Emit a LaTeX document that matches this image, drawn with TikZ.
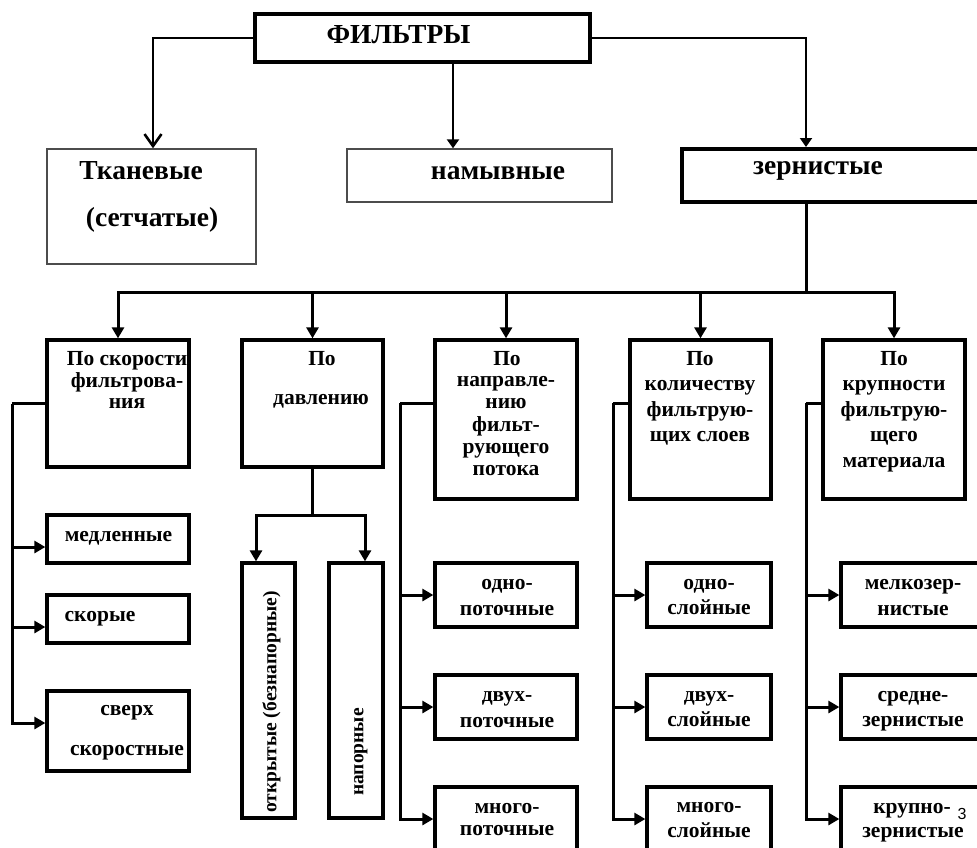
\documentclass[tikz,border=0pt]{standalone}
\usepackage{fontspec}
\setmainfont{Liberation Serif}
\newfontfamily\pagenofont{Liberation Sans}
\usetikzlibrary{arrows.meta}

\begin{document}
\begin{tikzpicture}
[x=1pt,y=-1pt,
  heavyBox/.style={draw,line width=4pt,inner sep=0pt},
  darkBox/.style={draw,line width=3.3pt,inner sep=0pt},
  lightBox/.style={draw=black!70,line width=1.4pt,inner sep=0pt},
  darkLine/.style={line width=3pt},
  midLine/.style={line width=2.6pt},
  thinLine/.style={line width=2pt},
  fullHead/.style={-{Triangle[length=11pt,width=12pt]}},
  smallHead/.style={-{Triangle[length=9pt,width=12pt]}},
  openHead/.style={-{Straight Barb[length=12pt,width=17pt]}},
  lineText/.style={inner sep=0pt,text height=9.8pt,text depth=0pt,
    font=\fontsize{21.5}{23}\selectfont\bfseries},
  bigText/.style={lineText,text height=12.6pt,
    font=\fontsize{27.5}{30}\selectfont\bfseries},
  sideText/.style={lineText,rotate=90,text height=8.9pt,
    font=\fontsize{19.5}{21}\selectfont\bfseries}]
\useasboundingbox (0,0) rectangle (977,847);
%% top level boxes
\node[heavyBox,minimum width=335pt,minimum height=48pt] (filters) at (422.5,38) {};
\node[heavyBox,minimum width=303pt,minimum height=53pt] (grain) at (833.5,175.5) {};
\node[lightBox,minimum width=209pt,minimum height=115pt] (cloth) at (151.5,206.5) {};
\node[lightBox,minimum width=265pt,minimum height=53pt] (precoat) at (479.5,175.5) {};
%% classification boxes and their kinds
\foreach \name/\x/\y/\w/\h in {speed/118/403.5/142/127, press/312.5/403.5/141/127,
  dir/506/419.5/142/159, layers/700.5/419.5/141/159, size/894/419.5/142/159,
  slow/118/539/142/48, fast/118/619/142/48, super/118/731/142/80,
  open/268.5/690.5/53/255, pressure/356/690.5/54/255,
  oneflow/506/595/142/64, twoflow/506/707/142/64, manyflow/506/819/142/64,
  onelayer/709/595/124/64, twolayer/709/707/124/64, manylayer/709/819/124/64,
  fine/913/595/144/64, medium/913/707/144/64, coarse/913/819/144/64}
{
  \node[darkBox,minimum width=\w pt,minimum height=\h pt] (\name) at (\x,\y) {};
}
%% texts
\foreach \x/\y/\txt [count=\i] in {398.5/37/ФИЛЬТРЫ,
  141/173/Тканевые, 152/220/(сетчатые), 498/173/намывные, 818/168/зернистые}
{
  \node[bigText] (head\i) at (\x,\y) {\txt};
}
\foreach \x/\y/\txt [count=\i] in {
  127/361/По скорости, 127/382.5/фильтрова-, 127/404/ния,
  322/361/По, 321/399.5/давлению,
  507/361/По, 506/382/направле-, 506/404/нию, 506/427/фильт-, 506/449/рующего, 506/471/потока,
  700/361/По, 700/386/количеству, 700/412/фильтрую-, 700/437/щих слоев,
  894/361/По, 894/386/крупности, 894/412/фильтрую-, 894/437/щего, 894/463/материала,
  118.5/537/медленные, 100/617/скорые, 127/711/сверх, 127/750.5/скоростные,
  507/585/одно-, 507/611/поточные, 507/697/двух-, 507/722.5/поточные, 507/809/много-, 507/831/поточные,
  709/585/одно-, 709/610/слойные, 709/697/двух-, 709/722/слойные, 709/808/много-, 709/833/слойные,
  913/585/мелкозер-, 913/611/нистые, 913/697/средне-, 913/722/зернистые, 912/809/крупно-, 913/833/зернистые}
{
  \node[lineText] (text\i) at (\x,\y) {\txt};
}
\node[sideText] (openText) at (272,702) {открытые (безнапорные)};
\node[sideText] (pressureText) at (359,752) {напорные};
\node[inner sep=0pt,font=\pagenofont\fontsize{16}{16}\selectfont] (pageno) at (962,814) {3};
%% top connectors
\draw[midLine,openHead] (filters.west) -| ([xshift=1.5pt]cloth.north);
\draw[midLine,smallHead] ([xshift=30.5pt]filters.south) -- ([xshift=-26.5pt]precoat.north);
\draw[thinLine,smallHead] (filters.east) -| ([xshift=-27.5pt]grain.north);
%% bus under the granular filters
\coordinate (bus) at (806,292);
\draw[darkLine] ([xshift=-27.5pt]grain.south) -- (bus);
\foreach \c in {speed,press,dir,layers,size}
{
  \draw[darkLine,fullHead] (bus) -| (\c.north);
}
%% by speed
\coordinate (speedbus) at (12,403.5);
\draw[darkLine] (speed.west) -- (speedbus);
\foreach \t/\s in {slow/-8, fast/-8, super/8}
{
  \draw[darkLine,fullHead] (speedbus) |- ([yshift=\s pt]\t.west);
}
%% by pressure
\coordinate (pressbus) at (312.5,515);
\draw[darkLine] (press.south) -- (pressbus);
\draw[darkLine,fullHead] (pressbus) -| ([xshift=-12.5pt]open.north);
\draw[darkLine,fullHead] (pressbus) -| ([xshift=9pt]pressure.north);
%% the three right columns
\foreach \c/\bx/\a/\b/\d in {dir/400/oneflow/twoflow/manyflow,
  layers/613/onelayer/twolayer/manylayer, size/806/fine/medium/coarse}
{
  \coordinate (\c bus) at (\bx,403);
  \draw[darkLine] ([yshift=16.5pt]\c.west) -- (\c bus);
  \foreach \t in {\a,\b,\d}
    \draw[darkLine,fullHead] (\c bus) |- (\t.west);
}
\end{tikzpicture}
\end{document}
